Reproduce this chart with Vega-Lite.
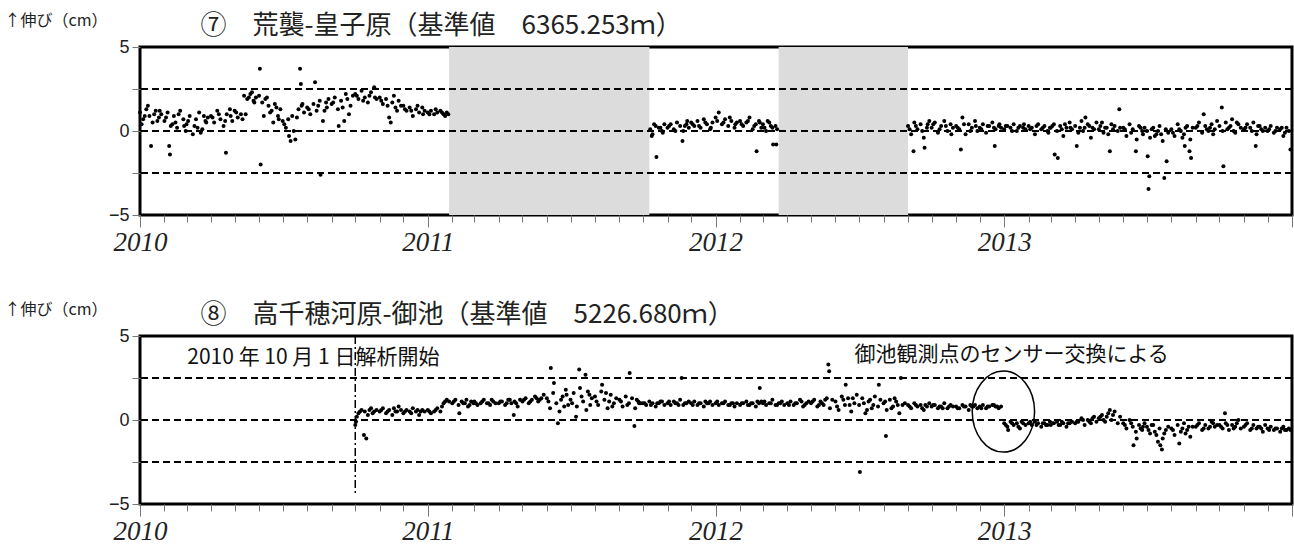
{
  "$schema": "https://vega.github.io/schema/vega-lite/v6.json",
  "background": "white",
  "padding": {"left": 2, "top": 10, "right": 2, "bottom": 2},
  "config": {
    "view": {"stroke": "#000", "strokeWidth": 3},
    "axis": {"grid": false, "domain": false, "tickColor": "#777", "labelColor": "#222"}
  },
  "datasets": {
    "gaps": [
      {"s": "2011-01-28", "e": "2011-10-09"},
      {"s": "2012-03-21", "e": "2012-09-01"}
    ],
    "levels": [{"v": 2.5}, {"v": 0}, {"v": -2.5}],
    "start": [{"d": "2010-10-01", "a": 5, "b": -4.5}],
    "notes": [
      {"d": "2010-03-02", "v": 3.33, "t": "2010 年 10 月 1 日解析開始"},
      {"d": "2012-06-25", "v": 3.5, "t": "御池観測点のセンサー交換による"}
    ],
    "circle": [{"d": "2012-12-31", "v": 0.5}],
    "p7": [
      {"d":"2010-01-01","v":1.1},{"d":"2010-01-03","v":0.4},{"d":"2010-01-05","v":0.7},{"d":"2010-01-09","v":1.3},{"d":"2010-01-11","v":1.5},{"d":"2010-01-13","v":0.9},{"d":"2010-01-15","v":-0.9},{"d":"2010-01-17","v":0.5},{"d":"2010-01-21","v":1.2},{"d":"2010-01-25","v":0.8},{"d":"2010-01-28","v":1.0},{"d":"2010-01-07","v":0.9},{"d":"2010-01-19","v":1.0},{"d":"2010-01-23","v":0.6},{"d":"2010-01-26","v":1.2},
      {"d":"2010-02-01","v":0.6},{"d":"2010-02-05","v":1.1},{"d":"2010-02-07","v":-0.9},{"d":"2010-02-08","v":-1.4},{"d":"2010-02-09","v":0.3},{"d":"2010-02-13","v":0.9},{"d":"2010-02-15","v":0.5},{"d":"2010-02-17","v":0.2},{"d":"2010-02-21","v":1.2},{"d":"2010-02-25","v":0.7},{"d":"2010-02-28","v":0.0},{"d":"2010-02-03","v":0.8},{"d":"2010-02-11","v":0.4},{"d":"2010-02-19","v":1.0},{"d":"2010-02-26","v":0.3},
      {"d":"2010-03-01","v":0.4},{"d":"2010-03-05","v":0.9},{"d":"2010-03-09","v":-0.2},{"d":"2010-03-11","v":0.3},{"d":"2010-03-13","v":0.7},{"d":"2010-03-17","v":1.1},{"d":"2010-03-19","v":-0.1},{"d":"2010-03-21","v":0.1},{"d":"2010-03-25","v":0.6},{"d":"2010-03-28","v":0.8},{"d":"2010-03-03","v":0.6},{"d":"2010-03-15","v":0.2},{"d":"2010-03-23","v":0.9},{"d":"2010-03-26","v":0.5},
      {"d":"2010-04-01","v":0.9},{"d":"2010-04-05","v":0.5},{"d":"2010-04-09","v":1.2},{"d":"2010-04-13","v":0.7},{"d":"2010-04-17","v":0.3},{"d":"2010-04-20","v":-1.3},{"d":"2010-04-21","v":1.0},{"d":"2010-04-25","v":1.3},{"d":"2010-04-28","v":0.6},{"d":"2010-04-03","v":0.8},{"d":"2010-04-11","v":1.0},{"d":"2010-04-19","v":0.6},{"d":"2010-04-26","v":0.9},
      {"d":"2010-05-01","v":1.2},{"d":"2010-05-05","v":0.8},{"d":"2010-05-09","v":1.0},{"d":"2010-05-13","v":2.1},{"d":"2010-05-15","v":1.0},{"d":"2010-05-17","v":1.9},{"d":"2010-05-21","v":2.2},{"d":"2010-05-23","v":2.3},{"d":"2010-05-25","v":1.8},{"d":"2010-05-28","v":2.0},{"d":"2010-05-03","v":1.1},{"d":"2010-05-11","v":0.7},{"d":"2010-05-19","v":2.0},{"d":"2010-05-26","v":1.7},
      {"d":"2010-06-01","v":2.1},{"d":"2010-06-02","v":3.7},{"d":"2010-06-03","v":-2.0},{"d":"2010-06-05","v":1.7},{"d":"2010-06-07","v":0.9},{"d":"2010-06-09","v":1.9},{"d":"2010-06-13","v":1.5},{"d":"2010-06-17","v":1.2},{"d":"2010-06-19","v":0.5},{"d":"2010-06-21","v":1.6},{"d":"2010-06-25","v":0.9},{"d":"2010-06-28","v":1.3},{"d":"2010-06-11","v":2.0},{"d":"2010-06-15","v":1.1},{"d":"2010-06-23","v":1.4},{"d":"2010-06-26","v":0.7},
      {"d":"2010-07-01","v":0.6},{"d":"2010-07-05","v":0.2},{"d":"2010-07-08","v":0.7},{"d":"2010-07-09","v":-0.3},{"d":"2010-07-11","v":-0.6},{"d":"2010-07-13","v":0.9},{"d":"2010-07-17","v":-0.5},{"d":"2010-07-21","v":1.3},{"d":"2010-07-23","v":3.7},{"d":"2010-07-24","v":2.8},{"d":"2010-07-25","v":1.5},{"d":"2010-07-28","v":1.1},{"d":"2010-07-03","v":0.4},{"d":"2010-07-15","v":0.0},{"d":"2010-07-19","v":0.8},{"d":"2010-07-26","v":1.6},
      {"d":"2010-08-01","v":1.4},{"d":"2010-08-05","v":1.0},{"d":"2010-08-09","v":1.6},{"d":"2010-08-11","v":2.9},{"d":"2010-08-13","v":1.2},{"d":"2010-08-17","v":1.8},{"d":"2010-08-18","v":-2.6},{"d":"2010-08-21","v":0.6},{"d":"2010-08-25","v":1.7},{"d":"2010-08-28","v":1.9},{"d":"2010-08-03","v":1.3},{"d":"2010-08-15","v":1.5},{"d":"2010-08-23","v":1.2},{"d":"2010-08-26","v":1.4},
      {"d":"2010-09-01","v":1.6},{"d":"2010-09-05","v":2.0},{"d":"2010-09-09","v":1.3},{"d":"2010-09-10","v":0.3},{"d":"2010-09-13","v":1.8},{"d":"2010-09-17","v":0.6},{"d":"2010-09-21","v":1.9},{"d":"2010-09-25","v":1.5},{"d":"2010-09-28","v":2.1},{"d":"2010-09-03","v":1.7},{"d":"2010-09-15","v":1.4},{"d":"2010-09-19","v":2.2},{"d":"2010-09-23","v":1.0},
      {"d":"2010-10-01","v":2.2},{"d":"2010-10-05","v":1.9},{"d":"2010-10-09","v":2.4},{"d":"2010-10-13","v":2.0},{"d":"2010-10-17","v":1.7},{"d":"2010-10-21","v":2.3},{"d":"2010-10-25","v":2.6},{"d":"2010-10-28","v":1.9},{"d":"2010-10-03","v":2.1},{"d":"2010-10-11","v":1.8},{"d":"2010-10-19","v":2.1},{"d":"2010-10-26","v":2.0},
      {"d":"2010-11-01","v":2.0},{"d":"2010-11-05","v":1.6},{"d":"2010-11-09","v":1.9},{"d":"2010-11-13","v":0.8},{"d":"2010-11-15","v":0.5},{"d":"2010-11-17","v":1.7},{"d":"2010-11-21","v":1.4},{"d":"2010-11-25","v":1.8},{"d":"2010-11-28","v":1.5},{"d":"2010-11-03","v":1.8},{"d":"2010-11-11","v":1.5},{"d":"2010-11-19","v":2.1},{"d":"2010-11-23","v":1.2},
      {"d":"2010-12-01","v":1.5},{"d":"2010-12-05","v":1.2},{"d":"2010-12-09","v":1.4},{"d":"2010-12-13","v":0.9},{"d":"2010-12-17","v":1.3},{"d":"2010-12-21","v":1.1},{"d":"2010-12-25","v":1.4},{"d":"2010-12-28","v":1.2},{"d":"2010-12-03","v":1.3},{"d":"2010-12-11","v":1.2},{"d":"2010-12-19","v":1.5},{"d":"2010-12-26","v":1.0},
      {"d":"2011-01-01","v":1.1},{"d":"2011-01-05","v":1.2},{"d":"2011-01-09","v":1.0},{"d":"2011-01-13","v":1.1},{"d":"2011-01-17","v":1.2},{"d":"2011-01-21","v":1.0},{"d":"2011-01-25","v":1.1},{"d":"2011-01-03","v":1.0},{"d":"2011-01-11","v":1.3},{"d":"2011-01-19","v":1.1},{"d":"2011-01-23","v":0.9},{"d":"2011-01-27","v":1.0},
      {"d":"2011-10-10","v":0.1},{"d":"2011-10-12","v":-0.3},{"d":"2011-10-13","v":-0.2},{"d":"2011-10-17","v":0.3},{"d":"2011-10-18","v":-1.55},{"d":"2011-10-21","v":0.2},{"d":"2011-10-25","v":0.0},{"d":"2011-10-28","v":0.4},{"d":"2011-10-15","v":0.4},{"d":"2011-10-23","v":0.2},{"d":"2011-10-26","v":-0.1},
      {"d":"2011-11-01","v":0.2},{"d":"2011-11-05","v":0.4},{"d":"2011-11-09","v":0.1},{"d":"2011-11-13","v":0.5},{"d":"2011-11-17","v":0.3},{"d":"2011-11-20","v":-0.6},{"d":"2011-11-21","v":0.0},{"d":"2011-11-25","v":0.4},{"d":"2011-11-28","v":0.2},{"d":"2011-11-03","v":0.3},{"d":"2011-11-11","v":0.0},{"d":"2011-11-23","v":0.3},{"d":"2011-11-26","v":0.6},
      {"d":"2011-12-01","v":0.5},{"d":"2011-12-05","v":0.3},{"d":"2011-12-09","v":0.6},{"d":"2011-12-13","v":0.2},{"d":"2011-12-17","v":0.7},{"d":"2011-12-21","v":0.4},{"d":"2011-12-25","v":0.1},{"d":"2011-12-28","v":0.5},{"d":"2011-12-03","v":0.4},{"d":"2011-12-11","v":0.3},{"d":"2011-12-19","v":0.5},{"d":"2011-12-26","v":0.2},
      {"d":"2012-01-01","v":0.8},{"d":"2012-01-05","v":1.1},{"d":"2012-01-09","v":0.4},{"d":"2012-01-13","v":0.7},{"d":"2012-01-17","v":0.3},{"d":"2012-01-21","v":0.6},{"d":"2012-01-25","v":0.2},{"d":"2012-01-28","v":0.5},{"d":"2012-01-03","v":0.6},{"d":"2012-01-11","v":0.5},{"d":"2012-01-19","v":0.8},{"d":"2012-01-26","v":0.4},
      {"d":"2012-02-01","v":0.6},{"d":"2012-02-05","v":0.3},{"d":"2012-02-09","v":0.5},{"d":"2012-02-13","v":0.8},{"d":"2012-02-17","v":0.1},{"d":"2012-02-21","v":0.4},{"d":"2012-02-22","v":-1.2},{"d":"2012-02-25","v":0.6},{"d":"2012-02-28","v":0.2},{"d":"2012-02-03","v":0.4},{"d":"2012-02-11","v":0.6},{"d":"2012-02-19","v":0.3},{"d":"2012-02-26","v":0.5},
      {"d":"2012-03-01","v":0.4},{"d":"2012-03-05","v":0.0},{"d":"2012-03-09","v":0.5},{"d":"2012-03-13","v":0.2},{"d":"2012-03-14","v":-0.8},{"d":"2012-03-17","v":0.3},{"d":"2012-03-18","v":-0.8},{"d":"2012-03-03","v":0.2},{"d":"2012-03-07","v":0.6},{"d":"2012-03-11","v":0.3},{"d":"2012-03-19","v":0.1},
      {"d":"2012-09-01","v":0.3},{"d":"2012-09-05","v":-0.2},{"d":"2012-09-08","v":-1.2},{"d":"2012-09-09","v":0.5},{"d":"2012-09-13","v":0.1},{"d":"2012-09-17","v":0.4},{"d":"2012-09-21","v":-0.4},{"d":"2012-09-22","v":-1.0},{"d":"2012-09-25","v":0.2},{"d":"2012-09-28","v":0.6},{"d":"2012-09-03","v":0.1},{"d":"2012-09-11","v":0.3},{"d":"2012-09-19","v":0.0},{"d":"2012-09-26","v":0.4},
      {"d":"2012-10-01","v":0.2},{"d":"2012-10-05","v":0.5},{"d":"2012-10-09","v":-0.1},{"d":"2012-10-13","v":0.3},{"d":"2012-10-17","v":0.6},{"d":"2012-10-21","v":0.0},{"d":"2012-10-25","v":0.4},{"d":"2012-10-28","v":0.2},{"d":"2012-10-03","v":0.4},{"d":"2012-10-11","v":0.1},{"d":"2012-10-19","v":0.3},{"d":"2012-10-26","v":-0.2},
      {"d":"2012-11-01","v":0.3},{"d":"2012-11-05","v":0.1},{"d":"2012-11-07","v":-1.1},{"d":"2012-11-09","v":0.8},{"d":"2012-11-13","v":-0.2},{"d":"2012-11-17","v":0.4},{"d":"2012-11-21","v":0.2},{"d":"2012-11-25","v":0.6},{"d":"2012-11-28","v":0.0},{"d":"2012-11-03","v":0.2},{"d":"2012-11-11","v":0.4},{"d":"2012-11-19","v":0.0},{"d":"2012-11-26","v":0.3},
      {"d":"2012-12-01","v":0.2},{"d":"2012-12-05","v":0.4},{"d":"2012-12-09","v":-0.1},{"d":"2012-12-13","v":0.3},{"d":"2012-12-17","v":0.5},{"d":"2012-12-20","v":-0.9},{"d":"2012-12-21","v":0.1},{"d":"2012-12-25","v":0.3},{"d":"2012-12-28","v":0.2},{"d":"2012-12-03","v":0.1},{"d":"2012-12-11","v":0.3},{"d":"2012-12-19","v":0.2},{"d":"2012-12-26","v":0.4},
      {"d":"2013-01-01","v":0.1},{"d":"2013-01-05","v":0.3},{"d":"2013-01-09","v":0.2},{"d":"2013-01-13","v":0.4},{"d":"2013-01-17","v":0.0},{"d":"2013-01-21","v":0.3},{"d":"2013-01-25","v":0.2},{"d":"2013-01-28","v":0.1},{"d":"2013-01-03","v":0.3},{"d":"2013-01-11","v":0.0},{"d":"2013-01-19","v":0.2},{"d":"2013-01-26","v":0.4},
      {"d":"2013-02-01","v":0.3},{"d":"2013-02-05","v":0.2},{"d":"2013-02-09","v":-0.2},{"d":"2013-02-13","v":0.4},{"d":"2013-02-17","v":0.1},{"d":"2013-02-21","v":0.3},{"d":"2013-02-25","v":0.0},{"d":"2013-02-28","v":0.2},{"d":"2013-02-03","v":0.1},{"d":"2013-02-11","v":0.3},{"d":"2013-02-19","v":0.2},{"d":"2013-02-26","v":-0.1},
      {"d":"2013-03-01","v":0.2},{"d":"2013-03-05","v":0.4},{"d":"2013-03-06","v":-1.4},{"d":"2013-03-09","v":0.0},{"d":"2013-03-10","v":-1.6},{"d":"2013-03-13","v":0.3},{"d":"2013-03-17","v":-0.3},{"d":"2013-03-21","v":0.2},{"d":"2013-03-25","v":0.5},{"d":"2013-03-28","v":0.1},{"d":"2013-03-03","v":0.3},{"d":"2013-03-15","v":0.1},{"d":"2013-03-19","v":0.4},{"d":"2013-03-26","v":0.2},
      {"d":"2013-04-01","v":0.3},{"d":"2013-04-03","v":-0.9},{"d":"2013-04-05","v":-0.1},{"d":"2013-04-09","v":0.6},{"d":"2013-04-13","v":0.2},{"d":"2013-04-14","v":0.8},{"d":"2013-04-17","v":0.4},{"d":"2013-04-21","v":-0.4},{"d":"2013-04-25","v":0.1},{"d":"2013-04-28","v":0.5},{"d":"2013-04-07","v":0.2},{"d":"2013-04-11","v":0.0},{"d":"2013-04-19","v":0.3},{"d":"2013-04-23","v":0.2},
      {"d":"2013-05-01","v":0.1},{"d":"2013-05-05","v":0.5},{"d":"2013-05-09","v":0.2},{"d":"2013-05-13","v":-0.2},{"d":"2013-05-15","v":-1.2},{"d":"2013-05-17","v":0.4},{"d":"2013-05-21","v":0.3},{"d":"2013-05-25","v":0.0},{"d":"2013-05-27","v":1.3},{"d":"2013-05-28","v":0.2},{"d":"2013-05-03","v":0.3},{"d":"2013-05-07","v":-0.1},{"d":"2013-05-11","v":0.2},{"d":"2013-05-19","v":0.1},
      {"d":"2013-06-01","v":0.2},{"d":"2013-06-05","v":-0.3},{"d":"2013-06-09","v":0.4},{"d":"2013-06-13","v":0.1},{"d":"2013-06-17","v":-1.2},{"d":"2013-06-18","v":-0.5},{"d":"2013-06-21","v":0.3},{"d":"2013-06-25","v":0.0},{"d":"2013-06-28","v":0.2},{"d":"2013-06-03","v":0.1},{"d":"2013-06-11","v":-0.1},{"d":"2013-06-23","v":0.2},{"d":"2013-06-26","v":-0.2},
      {"d":"2013-07-01","v":0.0},{"d":"2013-07-02","v":-1.5},{"d":"2013-07-03","v":-3.45},{"d":"2013-07-04","v":-2.7},{"d":"2013-07-05","v":-0.4},{"d":"2013-07-09","v":0.2},{"d":"2013-07-13","v":-0.2},{"d":"2013-07-17","v":0.3},{"d":"2013-07-21","v":-0.6},{"d":"2013-07-23","v":-2.8},{"d":"2013-07-25","v":0.1},{"d":"2013-07-26","v":-1.8},{"d":"2013-07-28","v":-0.1},{"d":"2013-07-07","v":0.1},{"d":"2013-07-11","v":-0.3},{"d":"2013-07-15","v":0.0},{"d":"2013-07-19","v":-0.2},
      {"d":"2013-08-01","v":0.1},{"d":"2013-08-05","v":-0.3},{"d":"2013-08-09","v":0.4},{"d":"2013-08-13","v":0.0},{"d":"2013-08-17","v":-0.2},{"d":"2013-08-18","v":-0.9},{"d":"2013-08-21","v":0.3},{"d":"2013-08-24","v":-1.2},{"d":"2013-08-25","v":-0.5},{"d":"2013-08-26","v":-1.6},{"d":"2013-08-28","v":0.2},{"d":"2013-08-03","v":-0.1},{"d":"2013-08-11","v":0.1},{"d":"2013-08-15","v":-0.4},{"d":"2013-08-19","v":0.2},
      {"d":"2013-09-01","v":0.2},{"d":"2013-09-05","v":0.5},{"d":"2013-09-09","v":-0.1},{"d":"2013-09-11","v":1.0},{"d":"2013-09-13","v":0.3},{"d":"2013-09-17","v":0.0},{"d":"2013-09-21","v":0.4},{"d":"2013-09-25","v":0.1},{"d":"2013-09-28","v":0.6},{"d":"2013-09-03","v":0.3},{"d":"2013-09-15","v":0.1},{"d":"2013-09-19","v":0.2},{"d":"2013-09-23","v":-0.2},
      {"d":"2013-10-01","v":0.3},{"d":"2013-10-04","v":1.4},{"d":"2013-10-05","v":0.0},{"d":"2013-10-06","v":-2.1},{"d":"2013-10-09","v":0.5},{"d":"2013-10-13","v":0.2},{"d":"2013-10-17","v":0.7},{"d":"2013-10-21","v":-0.1},{"d":"2013-10-25","v":0.4},{"d":"2013-10-28","v":0.2},{"d":"2013-10-11","v":0.1},{"d":"2013-10-15","v":0.3},{"d":"2013-10-19","v":0.0},{"d":"2013-10-23","v":0.5},
      {"d":"2013-11-01","v":0.1},{"d":"2013-11-05","v":0.4},{"d":"2013-11-09","v":0.2},{"d":"2013-11-13","v":0.5},{"d":"2013-11-16","v":-0.9},{"d":"2013-11-17","v":-0.2},{"d":"2013-11-21","v":0.3},{"d":"2013-11-25","v":0.0},{"d":"2013-11-28","v":0.2},{"d":"2013-11-03","v":0.2},{"d":"2013-11-11","v":0.0},{"d":"2013-11-19","v":0.3},{"d":"2013-11-23","v":0.1},
      {"d":"2013-12-01","v":0.0},{"d":"2013-12-05","v":0.3},{"d":"2013-12-09","v":-0.1},{"d":"2013-12-13","v":0.2},{"d":"2013-12-17","v":0.1},{"d":"2013-12-21","v":-0.3},{"d":"2013-12-25","v":0.2},{"d":"2013-12-28","v":0.0},{"d":"2013-12-30","v":-1.1},{"d":"2013-12-03","v":0.1},{"d":"2013-12-11","v":0.0},{"d":"2013-12-19","v":0.2},{"d":"2013-12-23","v":-0.1}
    ],
    "p8": [
      {"d":"2010-10-01","v":-0.3},{"d":"2010-10-02","v":-0.1},{"d":"2010-10-05","v":0.4},{"d":"2010-10-09","v":0.6},{"d":"2010-10-12","v":-0.9},{"d":"2010-10-13","v":0.5},{"d":"2010-10-15","v":-1.1},{"d":"2010-10-17","v":0.3},{"d":"2010-10-21","v":0.7},{"d":"2010-10-25","v":0.5},{"d":"2010-10-28","v":0.6},{"d":"2010-10-03","v":0.2},{"d":"2010-10-07","v":0.5},{"d":"2010-10-19","v":0.6},{"d":"2010-10-23","v":0.4},
      {"d":"2010-11-01","v":0.5},{"d":"2010-11-05","v":0.7},{"d":"2010-11-09","v":0.4},{"d":"2010-11-13","v":0.6},{"d":"2010-11-17","v":0.3},{"d":"2010-11-21","v":0.5},{"d":"2010-11-25","v":0.8},{"d":"2010-11-28","v":0.6},{"d":"2010-11-03","v":0.6},{"d":"2010-11-11","v":0.5},{"d":"2010-11-19","v":0.7},{"d":"2010-11-23","v":0.5},
      {"d":"2010-12-01","v":0.4},{"d":"2010-12-05","v":0.6},{"d":"2010-12-09","v":0.5},{"d":"2010-12-13","v":0.7},{"d":"2010-12-17","v":0.5},{"d":"2010-12-21","v":0.3},{"d":"2010-12-25","v":0.6},{"d":"2010-12-28","v":0.5},{"d":"2010-12-03","v":0.5},{"d":"2010-12-11","v":0.4},{"d":"2010-12-19","v":0.6},{"d":"2010-12-23","v":0.5},
      {"d":"2011-01-01","v":0.6},{"d":"2011-01-05","v":0.4},{"d":"2011-01-09","v":0.5},{"d":"2011-01-13","v":0.7},{"d":"2011-01-17","v":0.5},{"d":"2011-01-21","v":1.0},{"d":"2011-01-25","v":1.2},{"d":"2011-01-28","v":1.1},{"d":"2011-01-03","v":0.5},{"d":"2011-01-11","v":0.6},{"d":"2011-01-19","v":0.8},{"d":"2011-01-23","v":1.1},
      {"d":"2011-02-01","v":1.0},{"d":"2011-02-05","v":1.2},{"d":"2011-02-09","v":0.9},{"d":"2011-02-10","v":0.4},{"d":"2011-02-13","v":1.1},{"d":"2011-02-17","v":1.0},{"d":"2011-02-21","v":0.8},{"d":"2011-02-25","v":1.1},{"d":"2011-02-28","v":1.0},{"d":"2011-02-03","v":1.1},{"d":"2011-02-15","v":1.0},{"d":"2011-02-19","v":1.2},{"d":"2011-02-23","v":0.9},
      {"d":"2011-03-01","v":1.1},{"d":"2011-03-05","v":0.9},{"d":"2011-03-09","v":1.0},{"d":"2011-03-13","v":1.2},{"d":"2011-03-17","v":1.0},{"d":"2011-03-21","v":0.9},{"d":"2011-03-25","v":1.1},{"d":"2011-03-28","v":1.0},{"d":"2011-03-03","v":1.0},{"d":"2011-03-11","v":1.1},{"d":"2011-03-19","v":1.0},{"d":"2011-03-23","v":1.2},
      {"d":"2011-04-01","v":1.0},{"d":"2011-04-05","v":1.1},{"d":"2011-04-09","v":0.9},{"d":"2011-04-13","v":1.2},{"d":"2011-04-17","v":1.0},{"d":"2011-04-20","v":0.3},{"d":"2011-04-21","v":1.1},{"d":"2011-04-25","v":0.8},{"d":"2011-04-28","v":1.2},{"d":"2011-04-03","v":1.1},{"d":"2011-04-11","v":1.0},{"d":"2011-04-15","v":1.2},{"d":"2011-04-23","v":1.0},
      {"d":"2011-05-01","v":1.1},{"d":"2011-05-05","v":1.3},{"d":"2011-05-09","v":1.0},{"d":"2011-05-13","v":1.2},{"d":"2011-05-17","v":1.4},{"d":"2011-05-21","v":1.1},{"d":"2011-05-25","v":1.3},{"d":"2011-05-28","v":1.5},{"d":"2011-05-03","v":1.2},{"d":"2011-05-11","v":1.1},{"d":"2011-05-19","v":1.3},{"d":"2011-05-23","v":1.2},
      {"d":"2011-06-01","v":1.3},{"d":"2011-06-05","v":0.7},{"d":"2011-06-06","v":3.1},{"d":"2011-06-09","v":1.6},{"d":"2011-06-10","v":2.2},{"d":"2011-06-13","v":1.0},{"d":"2011-06-15","v":-0.2},{"d":"2011-06-17","v":0.5},{"d":"2011-06-21","v":1.4},{"d":"2011-06-25","v":1.8},{"d":"2011-06-28","v":0.9},{"d":"2011-06-03","v":1.1},{"d":"2011-06-19","v":1.2},{"d":"2011-06-23","v":0.8},{"d":"2011-06-26","v":1.5},
      {"d":"2011-07-01","v":1.2},{"d":"2011-07-05","v":1.6},{"d":"2011-07-08","v":0.2},{"d":"2011-07-09","v":0.8},{"d":"2011-07-12","v":3.0},{"d":"2011-07-13","v":1.9},{"d":"2011-07-17","v":1.1},{"d":"2011-07-20","v":2.7},{"d":"2011-07-21","v":0.6},{"d":"2011-07-25","v":1.5},{"d":"2011-07-28","v":1.3},{"d":"2011-07-03","v":1.0},{"d":"2011-07-15","v":1.4},{"d":"2011-07-23","v":1.7},{"d":"2011-07-26","v":0.9},
      {"d":"2011-08-01","v":1.4},{"d":"2011-08-05","v":0.9},{"d":"2011-08-09","v":1.7},{"d":"2011-08-10","v":2.1},{"d":"2011-08-13","v":1.2},{"d":"2011-08-17","v":0.7},{"d":"2011-08-21","v":1.5},{"d":"2011-08-25","v":1.0},{"d":"2011-08-28","v":1.3},{"d":"2011-08-03","v":1.1},{"d":"2011-08-15","v":1.6},{"d":"2011-08-19","v":1.1},{"d":"2011-08-23","v":0.8},
      {"d":"2011-09-01","v":1.2},{"d":"2011-09-05","v":0.8},{"d":"2011-09-09","v":1.4},{"d":"2011-09-13","v":1.0},{"d":"2011-09-14","v":2.8},{"d":"2011-09-17","v":1.3},{"d":"2011-09-20","v":-0.35},{"d":"2011-09-21","v":0.7},{"d":"2011-09-25","v":1.1},{"d":"2011-09-28","v":1.0},{"d":"2011-09-03","v":1.1},{"d":"2011-09-11","v":0.9},{"d":"2011-09-23","v":1.2},{"d":"2011-09-26","v":1.0},
      {"d":"2011-10-01","v":1.0},{"d":"2011-10-05","v":0.9},{"d":"2011-10-09","v":1.1},{"d":"2011-10-13","v":1.0},{"d":"2011-10-17","v":0.8},{"d":"2011-10-21","v":1.0},{"d":"2011-10-25","v":1.1},{"d":"2011-10-28","v":0.9},{"d":"2011-10-03","v":1.0},{"d":"2011-10-11","v":0.9},{"d":"2011-10-19","v":1.0},{"d":"2011-10-23","v":1.1},
      {"d":"2011-11-01","v":1.0},{"d":"2011-11-05","v":0.9},{"d":"2011-11-09","v":1.1},{"d":"2011-11-13","v":1.0},{"d":"2011-11-17","v":1.2},{"d":"2011-11-19","v":2.5},{"d":"2011-11-21","v":0.9},{"d":"2011-11-25","v":1.0},{"d":"2011-11-28","v":1.1},{"d":"2011-11-03","v":1.1},{"d":"2011-11-11","v":1.0},{"d":"2011-11-15","v":0.9},{"d":"2011-11-23","v":1.0},
      {"d":"2011-12-01","v":1.0},{"d":"2011-12-05","v":1.1},{"d":"2011-12-09","v":0.9},{"d":"2011-12-13","v":1.0},{"d":"2011-12-17","v":0.8},{"d":"2011-12-21","v":1.0},{"d":"2011-12-25","v":1.1},{"d":"2011-12-28","v":0.9},{"d":"2011-12-03","v":0.9},{"d":"2011-12-11","v":1.0},{"d":"2011-12-19","v":1.1},{"d":"2011-12-23","v":1.0},
      {"d":"2012-01-01","v":1.0},{"d":"2012-01-05","v":0.9},{"d":"2012-01-09","v":1.0},{"d":"2012-01-13","v":1.1},{"d":"2012-01-17","v":0.9},{"d":"2012-01-21","v":1.0},{"d":"2012-01-25","v":0.8},{"d":"2012-01-28","v":1.0},{"d":"2012-01-03","v":1.1},{"d":"2012-01-11","v":1.0},{"d":"2012-01-19","v":0.9},{"d":"2012-01-23","v":1.0},
      {"d":"2012-02-01","v":0.9},{"d":"2012-02-05","v":1.0},{"d":"2012-02-09","v":1.1},{"d":"2012-02-13","v":0.9},{"d":"2012-02-17","v":1.0},{"d":"2012-02-21","v":0.8},{"d":"2012-02-25","v":1.0},{"d":"2012-02-26","v":1.9},{"d":"2012-02-28","v":1.1},{"d":"2012-02-03","v":1.0},{"d":"2012-02-11","v":0.9},{"d":"2012-02-15","v":1.0},{"d":"2012-02-23","v":1.1},
      {"d":"2012-03-01","v":1.0},{"d":"2012-03-05","v":0.9},{"d":"2012-03-09","v":1.0},{"d":"2012-03-13","v":1.2},{"d":"2012-03-17","v":0.9},{"d":"2012-03-21","v":1.0},{"d":"2012-03-25","v":1.1},{"d":"2012-03-28","v":0.9},{"d":"2012-03-03","v":1.1},{"d":"2012-03-11","v":1.0},{"d":"2012-03-19","v":0.9},{"d":"2012-03-23","v":1.0},
      {"d":"2012-04-01","v":1.0},{"d":"2012-04-05","v":1.1},{"d":"2012-04-09","v":0.9},{"d":"2012-04-13","v":1.0},{"d":"2012-04-17","v":1.2},{"d":"2012-04-21","v":0.8},{"d":"2012-04-25","v":1.0},{"d":"2012-04-28","v":1.1},{"d":"2012-04-03","v":0.9},{"d":"2012-04-11","v":1.0},{"d":"2012-04-19","v":1.1},{"d":"2012-04-23","v":0.9},
      {"d":"2012-05-01","v":1.0},{"d":"2012-05-05","v":1.2},{"d":"2012-05-09","v":0.8},{"d":"2012-05-13","v":1.1},{"d":"2012-05-17","v":0.9},{"d":"2012-05-21","v":1.3},{"d":"2012-05-23","v":3.3},{"d":"2012-05-24","v":2.9},{"d":"2012-05-25","v":0.7},{"d":"2012-05-28","v":1.2},{"d":"2012-05-03","v":1.1},{"d":"2012-05-11","v":0.9},{"d":"2012-05-15","v":1.0},{"d":"2012-05-19","v":1.2},
      {"d":"2012-06-01","v":1.1},{"d":"2012-06-05","v":0.6},{"d":"2012-06-09","v":1.4},{"d":"2012-06-13","v":0.9},{"d":"2012-06-14","v":2.1},{"d":"2012-06-17","v":1.3},{"d":"2012-06-21","v":0.5},{"d":"2012-06-25","v":1.0},{"d":"2012-06-28","v":1.5},{"d":"2012-06-03","v":0.8},{"d":"2012-06-11","v":1.2},{"d":"2012-06-19","v":0.9},{"d":"2012-06-23","v":1.3},
      {"d":"2012-07-01","v":0.9},{"d":"2012-07-02","v":-3.1},{"d":"2012-07-05","v":1.3},{"d":"2012-07-09","v":0.4},{"d":"2012-07-13","v":1.1},{"d":"2012-07-17","v":0.7},{"d":"2012-07-21","v":1.4},{"d":"2012-07-25","v":0.8},{"d":"2012-07-26","v":2.1},{"d":"2012-07-28","v":1.2},{"d":"2012-07-07","v":1.0},{"d":"2012-07-11","v":0.6},{"d":"2012-07-15","v":1.2},{"d":"2012-07-19","v":0.9},
      {"d":"2012-08-01","v":1.0},{"d":"2012-08-04","v":-0.95},{"d":"2012-08-05","v":0.6},{"d":"2012-08-09","v":1.2},{"d":"2012-08-13","v":0.8},{"d":"2012-08-17","v":1.1},{"d":"2012-08-21","v":0.4},{"d":"2012-08-23","v":2.5},{"d":"2012-08-25","v":0.9},{"d":"2012-08-28","v":1.0},{"d":"2012-08-03","v":1.1},{"d":"2012-08-11","v":0.7},{"d":"2012-08-15","v":1.3},{"d":"2012-08-19","v":0.9},
      {"d":"2012-09-01","v":0.9},{"d":"2012-09-05","v":0.7},{"d":"2012-09-09","v":1.0},{"d":"2012-09-13","v":0.8},{"d":"2012-09-17","v":0.9},{"d":"2012-09-21","v":0.6},{"d":"2012-09-25","v":0.8},{"d":"2012-09-28","v":1.0},{"d":"2012-09-03","v":0.8},{"d":"2012-09-11","v":0.9},{"d":"2012-09-19","v":0.7},{"d":"2012-09-23","v":0.9},
      {"d":"2012-10-01","v":0.8},{"d":"2012-10-05","v":0.9},{"d":"2012-10-09","v":0.7},{"d":"2012-10-13","v":0.8},{"d":"2012-10-17","v":1.0},{"d":"2012-10-21","v":0.7},{"d":"2012-10-25","v":0.9},{"d":"2012-10-28","v":0.8},{"d":"2012-10-03","v":0.9},{"d":"2012-10-11","v":0.8},{"d":"2012-10-15","v":0.7},{"d":"2012-10-23","v":0.8},
      {"d":"2012-11-01","v":0.8},{"d":"2012-11-05","v":0.7},{"d":"2012-11-09","v":0.9},{"d":"2012-11-13","v":0.8},{"d":"2012-11-17","v":0.6},{"d":"2012-11-21","v":0.8},{"d":"2012-11-25","v":0.9},{"d":"2012-11-28","v":0.7},{"d":"2012-11-03","v":0.7},{"d":"2012-11-11","v":0.8},{"d":"2012-11-19","v":0.9},{"d":"2012-11-23","v":0.8},
      {"d":"2012-12-01","v":0.8},{"d":"2012-12-05","v":0.9},{"d":"2012-12-09","v":0.7},{"d":"2012-12-13","v":0.8},{"d":"2012-12-17","v":0.9},{"d":"2012-12-21","v":0.8},{"d":"2012-12-25","v":0.7},{"d":"2012-12-28","v":0.8},{"d":"2012-12-03","v":0.7},{"d":"2012-12-11","v":0.8},{"d":"2012-12-19","v":0.9},{"d":"2012-12-23","v":0.8},
      {"d":"2013-01-01","v":-0.2},{"d":"2013-01-05","v":-0.4},{"d":"2013-01-06","v":-0.6},{"d":"2013-01-09","v":-0.1},{"d":"2013-01-13","v":-0.3},{"d":"2013-01-17","v":-0.2},{"d":"2013-01-21","v":-0.5},{"d":"2013-01-25","v":-0.2},{"d":"2013-01-28","v":-0.3},{"d":"2013-01-03","v":-0.3},{"d":"2013-01-11","v":-0.2},{"d":"2013-01-19","v":-0.4},{"d":"2013-01-23","v":-0.1},
      {"d":"2013-02-01","v":-0.2},{"d":"2013-02-05","v":-0.3},{"d":"2013-02-09","v":-0.1},{"d":"2013-02-13","v":-0.2},{"d":"2013-02-17","v":-0.4},{"d":"2013-02-21","v":-0.2},{"d":"2013-02-25","v":-0.3},{"d":"2013-02-28","v":-0.1},{"d":"2013-02-03","v":-0.1},{"d":"2013-02-11","v":-0.3},{"d":"2013-02-19","v":-0.2},{"d":"2013-02-23","v":-0.3},
      {"d":"2013-03-01","v":-0.3},{"d":"2013-03-05","v":-0.2},{"d":"2013-03-09","v":-0.1},{"d":"2013-03-13","v":-0.3},{"d":"2013-03-17","v":-0.2},{"d":"2013-03-21","v":-0.4},{"d":"2013-03-25","v":-0.2},{"d":"2013-03-28","v":-0.1},{"d":"2013-03-03","v":-0.2},{"d":"2013-03-11","v":-0.3},{"d":"2013-03-15","v":-0.1},{"d":"2013-03-23","v":-0.2},
      {"d":"2013-04-01","v":-0.2},{"d":"2013-04-05","v":-0.1},{"d":"2013-04-09","v":0.1},{"d":"2013-04-13","v":-0.3},{"d":"2013-04-17","v":0.0},{"d":"2013-04-21","v":-0.2},{"d":"2013-04-25","v":0.2},{"d":"2013-04-28","v":-0.1},{"d":"2013-04-03","v":-0.1},{"d":"2013-04-11","v":0.0},{"d":"2013-04-19","v":-0.1},{"d":"2013-04-23","v":0.1},
      {"d":"2013-05-01","v":0.1},{"d":"2013-05-05","v":0.3},{"d":"2013-05-09","v":-0.1},{"d":"2013-05-13","v":0.4},{"d":"2013-05-15","v":0.6},{"d":"2013-05-17","v":0.0},{"d":"2013-05-21","v":0.5},{"d":"2013-05-25","v":-0.2},{"d":"2013-05-28","v":0.2},{"d":"2013-05-03","v":0.2},{"d":"2013-05-07","v":0.0},{"d":"2013-05-11","v":0.2},{"d":"2013-05-19","v":0.3},
      {"d":"2013-06-01","v":-0.2},{"d":"2013-06-05","v":-0.5},{"d":"2013-06-09","v":0.0},{"d":"2013-06-13","v":-0.4},{"d":"2013-06-14","v":-1.5},{"d":"2013-06-17","v":-0.7},{"d":"2013-06-18","v":-1.1},{"d":"2013-06-21","v":-0.3},{"d":"2013-06-25","v":-0.6},{"d":"2013-06-28","v":-0.2},{"d":"2013-06-03","v":-0.3},{"d":"2013-06-11","v":-0.2},{"d":"2013-06-23","v":-0.5},{"d":"2013-06-26","v":-0.4},
      {"d":"2013-07-01","v":-0.4},{"d":"2013-07-05","v":-0.8},{"d":"2013-07-09","v":-0.3},{"d":"2013-07-13","v":-0.9},{"d":"2013-07-15","v":-1.3},{"d":"2013-07-17","v":-0.5},{"d":"2013-07-18","v":-1.5},{"d":"2013-07-20","v":-1.75},{"d":"2013-07-21","v":-1.1},{"d":"2013-07-25","v":-0.6},{"d":"2013-07-28","v":-0.4},{"d":"2013-07-03","v":-0.6},{"d":"2013-07-07","v":-0.3},{"d":"2013-07-11","v":-0.7},{"d":"2013-07-23","v":-0.8},
      {"d":"2013-08-01","v":-0.5},{"d":"2013-08-05","v":-0.9},{"d":"2013-08-09","v":-0.3},{"d":"2013-08-11","v":-1.4},{"d":"2013-08-13","v":-0.7},{"d":"2013-08-17","v":-0.2},{"d":"2013-08-21","v":-0.6},{"d":"2013-08-25","v":-1.0},{"d":"2013-08-28","v":-0.4},{"d":"2013-08-03","v":-0.6},{"d":"2013-08-15","v":-0.5},{"d":"2013-08-19","v":-0.8},{"d":"2013-08-23","v":-0.4},
      {"d":"2013-09-01","v":-0.4},{"d":"2013-09-05","v":-0.2},{"d":"2013-09-09","v":-0.6},{"d":"2013-09-13","v":-0.3},{"d":"2013-09-17","v":-0.5},{"d":"2013-09-21","v":-0.1},{"d":"2013-09-25","v":-0.4},{"d":"2013-09-28","v":-0.3},{"d":"2013-09-03","v":-0.3},{"d":"2013-09-11","v":-0.5},{"d":"2013-09-19","v":-0.4},{"d":"2013-09-23","v":-0.2},
      {"d":"2013-10-01","v":-0.3},{"d":"2013-10-05","v":-0.5},{"d":"2013-10-08","v":0.4},{"d":"2013-10-09","v":-0.2},{"d":"2013-10-13","v":-0.6},{"d":"2013-10-17","v":-0.3},{"d":"2013-10-21","v":-0.4},{"d":"2013-10-25","v":0.0},{"d":"2013-10-28","v":-0.5},{"d":"2013-10-03","v":-0.4},{"d":"2013-10-11","v":-0.3},{"d":"2013-10-19","v":-0.5},{"d":"2013-10-23","v":-0.2},
      {"d":"2013-11-01","v":-0.4},{"d":"2013-11-05","v":-0.2},{"d":"2013-11-09","v":-0.6},{"d":"2013-11-13","v":-0.3},{"d":"2013-11-17","v":-0.5},{"d":"2013-11-21","v":-0.4},{"d":"2013-11-25","v":-0.7},{"d":"2013-11-28","v":-0.3},{"d":"2013-11-03","v":-0.3},{"d":"2013-11-11","v":-0.5},{"d":"2013-11-19","v":-0.4},{"d":"2013-11-23","v":-0.5},
      {"d":"2013-12-01","v":-0.5},{"d":"2013-12-05","v":-0.4},{"d":"2013-12-09","v":-0.6},{"d":"2013-12-13","v":-0.5},{"d":"2013-12-17","v":-0.7},{"d":"2013-12-21","v":-0.4},{"d":"2013-12-25","v":-0.6},{"d":"2013-12-28","v":-0.5},{"d":"2013-12-30","v":-0.6},{"d":"2013-12-03","v":-0.6},{"d":"2013-12-11","v":-0.5},{"d":"2013-12-19","v":-0.5},{"d":"2013-12-23","v":-0.6}
    ]
  },
  "vconcat": [
    {
      "width": 1152,
      "height": 168,
      "resolve": {"axis": {"x": "independent", "y": "independent"}},
      "layer": [
        {
          "data": {"name": "gaps"},
          "mark": {"type": "rect", "fill": "#dcdcdc"},
          "encoding": {
            "x": {"field": "s", "type": "temporal", "scale": {"type": "utc", "domain": [{"year": 2010, "month": 1, "date": 1, "utc": true}, {"year": 2014, "month": 1, "date": 1, "utc": true}]},
                  "axis": {"orient": "bottom", "tickCount": {"interval": "month", "step": 1}, "labels": false, "tickSize": 7, "title": null}},
            "x2": {"field": "e"}
          }
        },
        {
          "data": {"name": "levels"},
          "mark": {"type": "rule", "stroke": "#000", "strokeWidth": 2, "strokeDash": [7, 4]},
          "encoding": {"y": {"field": "v", "type": "quantitative", "scale": {"domain": [-5, 5], "nice": false, "zero": false},
                             "axis": {"orient": "left", "ticks": false, "labels": false, "title": "⑦　荒襲-皇子原（基準値　6365.253ｍ）", "titleAngle": 0, "titleAlign": "left", "titleBaseline": "alphabetic", "titleX": 60, "titleY": -14, "titleFont": "Noto Sans CJK JP", "titleFontSize": 26, "titleFontWeight": "normal", "titleColor": "#222"}}}
        },
        {
          "data": {"name": "p7"},
          "mark": {"type": "point", "filled": true, "color": "#000", "size": 16, "opacity": 1},
          "encoding": {
            "x": {"field": "d", "type": "temporal", "scale": {"type": "utc", "domain": [{"year": 2010, "month": 1, "date": 1, "utc": true}, {"year": 2014, "month": 1, "date": 1, "utc": true}]},
                  "axis": {"orient": "bottom", "tickCount": {"interval": "year", "step": 1}, "labelExpr": "utcyear(datum.value) < 2014 ? utcFormat(datum.value, '%Y') : ''", "labelFont": "Liberation Serif", "labelFontStyle": "italic", "labelFontSize": 27, "labelPadding": 2, "labelFlush": false, "labelOverlap": false, "tickSize": 12, "title": null}},
            "y": {"field": "v", "type": "quantitative", "scale": {"domain": [-5, 5], "nice": false, "zero": false},
                  "axis": {"orient": "left", "values": [-5, -2.5, 0, 2.5, 5], "labelExpr": "datum.value % 5 === 0 ? format(datum.value, 'd') : ''", "labelFont": "Liberation Sans", "labelFontSize": 18, "labelPadding": 3, "tickSize": 8,
                           "title": "↑伸び（cm）", "titleAngle": 0, "titleAlign": "left", "titleBaseline": "alphabetic", "titleX": -136, "titleY": -22, "titleFont": "Noto Sans CJK JP", "titleFontSize": 16, "titleFontWeight": "normal", "titleColor": "#222"}}
          }
        }
      ]
    },
    {
      "width": 1152,
      "height": 168,
      "resolve": {"axis": {"x": "independent", "y": "independent"}},
      "layer": [
        {
          "data": {"name": "start"},
          "mark": {"type": "rule", "stroke": "#000", "strokeWidth": 1.5, "strokeDash": [8, 3, 2, 3]},
          "encoding": {
            "x": {"field": "d", "type": "temporal", "scale": {"type": "utc", "domain": [{"year": 2010, "month": 1, "date": 1, "utc": true}, {"year": 2014, "month": 1, "date": 1, "utc": true}]},
                  "axis": {"orient": "bottom", "tickCount": {"interval": "month", "step": 1}, "labels": false, "tickSize": 7, "title": null}},
            "y": {"field": "a", "type": "quantitative", "scale": {"domain": [-5, 5], "nice": false, "zero": false}, "axis": null},
            "y2": {"field": "b"}
          }
        },
        {
          "data": {"name": "levels"},
          "mark": {"type": "rule", "stroke": "#000", "strokeWidth": 2, "strokeDash": [7, 4]},
          "encoding": {"y": {"field": "v", "type": "quantitative", "scale": {"domain": [-5, 5], "nice": false, "zero": false},
                             "axis": {"orient": "left", "ticks": false, "labels": false, "title": "⑧　高千穂河原-御池（基準値　5226.680ｍ）", "titleAngle": 0, "titleAlign": "left", "titleBaseline": "alphabetic", "titleX": 60, "titleY": -14, "titleFont": "Noto Sans CJK JP", "titleFontSize": 26, "titleFontWeight": "normal", "titleColor": "#222"}}}
        },
        {
          "data": {"name": "p8"},
          "mark": {"type": "point", "filled": true, "color": "#000", "size": 16, "opacity": 1},
          "encoding": {
            "x": {"field": "d", "type": "temporal", "scale": {"type": "utc", "domain": [{"year": 2010, "month": 1, "date": 1, "utc": true}, {"year": 2014, "month": 1, "date": 1, "utc": true}]},
                  "axis": {"orient": "bottom", "tickCount": {"interval": "year", "step": 1}, "labelExpr": "utcyear(datum.value) < 2014 ? utcFormat(datum.value, '%Y') : ''", "labelFont": "Liberation Serif", "labelFontStyle": "italic", "labelFontSize": 27, "labelPadding": 2, "labelFlush": false, "labelOverlap": false, "tickSize": 12, "title": null}},
            "y": {"field": "v", "type": "quantitative", "scale": {"domain": [-5, 5], "nice": false, "zero": false},
                  "axis": {"orient": "left", "values": [-5, -2.5, 0, 2.5, 5], "labelExpr": "datum.value % 5 === 0 ? format(datum.value, 'd') : ''", "labelFont": "Liberation Sans", "labelFontSize": 18, "labelPadding": 3, "tickSize": 8,
                           "title": "↑伸び（cm）", "titleAngle": 0, "titleAlign": "left", "titleBaseline": "alphabetic", "titleX": -136, "titleY": -22, "titleFont": "Noto Sans CJK JP", "titleFontSize": 16, "titleFontWeight": "normal", "titleColor": "#222"}}
          }
        },
        {
          "data": {"name": "notes"},
          "mark": {"type": "text", "align": "left", "baseline": "alphabetic", "font": "Noto Sans CJK JP", "fontSize": 21, "color": "#111"},
          "encoding": {
            "x": {"field": "d", "type": "temporal", "axis": null},
            "y": {"field": "v", "type": "quantitative", "axis": null},
            "text": {"field": "t"}
          }
        },
        {
          "data": {"name": "circle"},
          "mark": {"type": "point", "shape": "M-0.77,0A0.77,1,0,1,1,0.77,0A0.77,1,0,1,1,-0.77,0Z", "size": 6561, "filled": false, "stroke": "#000", "strokeWidth": 1.5, "opacity": 1},
          "encoding": {
            "x": {"field": "d", "type": "temporal", "axis": null},
            "y": {"field": "v", "type": "quantitative", "axis": null}
          }
        }
      ]
    }
  ],
  "spacing": 121,
  "bounds": "flush"
}
